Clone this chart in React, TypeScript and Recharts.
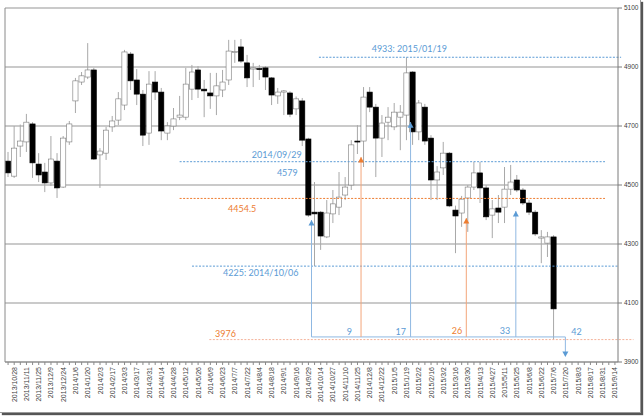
import React from 'react';
import { ComposedChart, Bar, XAxis, YAxis, CartesianGrid, ReferenceLine, ReferenceDot } from 'recharts';

// Week labels shown on the axis (every other week)
const labeledWeeks = [
  '2013/10/28', '2013/11/11', '2013/11/25', '2013/12/9', '2013/12/24', '2014/1/6', '2014/1/20', '2014/2/3',
  '2014/2/17', '2014/3/3', '2014/3/17', '2014/3/31', '2014/4/14', '2014/4/28', '2014/5/12', '2014/5/26',
  '2014/6/9', '2014/6/23', '2014/7/7', '2014/7/22', '2014/8/4', '2014/8/18', '2014/9/1', '2014/9/16',
  '2014/9/29', '2014/10/14', '2014/10/27', '2014/11/10', '2014/11/25', '2014/12/8', '2014/12/22', '2015/1/5',
  '2015/1/19', '2015/2/2', '2015/2/16', '2015/3/2', '2015/3/16', '2015/3/30', '2015/4/13', '2015/4/27',
  '2015/5/11', '2015/5/25', '2015/6/8', '2015/6/22', '2015/7/6', '2015/7/20', '2015/8/3', '2015/8/17',
  '2015/8/31', '2015/9/14',
];
// Weeks in between (not labeled)
const otherWeeks = [
  '2013/10/21', '2013/11/4', '2013/11/18', '2013/12/2', '2013/12/16', '2013/12/30', '2014/1/14', '2014/1/27',
  '2014/2/10', '2014/2/24', '2014/3/10', '2014/3/24', '2014/4/7', '2014/4/21', '2014/5/7', '2014/5/19',
  '2014/6/2', '2014/6/16', '2014/6/30', '2014/7/14', '2014/7/28', '2014/8/11', '2014/8/25', '2014/9/8',
  '2014/9/22', '2014/10/6', '2014/10/20', '2014/11/4', '2014/11/17', '2014/12/1', '2014/12/15', '2014/12/29',
  '2015/1/13', '2015/1/26', '2015/2/9', '2015/2/23', '2015/3/9', '2015/3/23', '2015/4/6', '2015/4/20',
  '2015/5/7', '2015/5/18', '2015/6/1', '2015/6/15', '2015/6/29', '2015/7/13', '2015/7/27', '2015/8/10',
  '2015/8/24', '2015/9/7',
];

const opens = [
  4581, 4530, 4632, 4646, 4707, 4571, 4544, 4507, 4581, 4493,
  4646, 4785, 4849, 4866, 4890, 4602, 4608, 4697, 4720, 4771,
  4944, 4856, 4808, 4676, 4849, 4815, 4676, 4700, 4730, 4730,
  4825, 4890, 4825, 4812, 4802, 4822, 4856, 4949, 4968, 4914,
  4893, 4895, 4897, 4863, 4802, 4815, 4812, 4758, 4785, 4656,
  4408, 4408, 4324, 4402, 4425, 4466, 4500, 4649, 4649, 4815,
  4764, 4659, 4713, 4697, 4730, 4737, 4883, 4680, 4764, 4659,
  4517, 4558, 4608, 4415, 4405, 4456, 4493, 4541, 4490, 4398,
  4422, 4425, 4486, 4517, 4483, 4439, 4408, 4320, 4303, 4324,
];
const highs = [
  4612, 4700, 4705, 4741, 4713, 4608, 4575, 4666, 4608, 4666,
  4717, 4863, 4883, 4981, 4897, 4625, 4697, 4734, 4815, 4958,
  4951, 4893, 4822, 4886, 4886, 4829, 4713, 4761, 4802, 4897,
  4907, 4903, 4856, 4880, 4880, 4890, 4992, 4992, 4995, 4941,
  4914, 4907, 4903, 4866, 4829, 4822, 4818, 4800, 4795, 4660,
  4510, 4412, 4449, 4483, 4544, 4527, 4652, 4703, 4832, 4832,
  4775, 4737, 4764, 4778, 4771, 4933, 4886, 4788, 4775, 4669,
  4564, 4646, 4612, 4430, 4463, 4500, 4578, 4578, 4500, 4449,
  4466, 4561, 4568, 4534, 4490, 4449, 4415, 4347, 4341, 4330,
];
const lows = [
  4527, 4524, 4595, 4612, 4524, 4510, 4476, 4497, 4456, 4490,
  4636, 4744, 4839, 4859, 4585, 4490, 4585, 4680, 4703, 4754,
  4822, 4771, 4632, 4636, 4788, 4652, 4652, 4686, 4720, 4720,
  4788, 4795, 4730, 4758, 4737, 4798, 4839, 4914, 4914, 4832,
  4832, 4856, 4822, 4771, 4775, 4737, 4730, 4737, 4632, 4392,
  4225, 4280, 4320, 4371, 4398, 4449, 4483, 4605, 4561, 4747,
  4527, 4595, 4652, 4686, 4618, 4652, 4636, 4652, 4636, 4449,
  4449, 4534, 4425, 4269, 4358, 4341, 4483, 4439, 4381, 4320,
  4371, 4371, 4466, 4476, 4432, 4398, 4327, 4235, 4256, 3976,
];
const closes = [
  4541, 4625, 4649, 4713, 4575, 4534, 4507, 4588, 4490, 4659,
  4707, 4853, 4870, 4890, 4588, 4615, 4686, 4717, 4792, 4951,
  4853, 4808, 4669, 4842, 4815, 4683, 4700, 4724, 4737, 4842,
  4883, 4825, 4819, 4802, 4836, 4849, 4954, 4952, 4920, 4863,
  4897, 4891, 4866, 4805, 4815, 4819, 4740, 4792, 4652, 4398,
  4402, 4327, 4405, 4436, 4459, 4493, 4636, 4646, 4798, 4764,
  4659, 4710, 4730, 4747, 4747, 4880, 4680, 4778, 4649, 4517,
  4544, 4608, 4429, 4395, 4452, 4493, 4541, 4490, 4392, 4419,
  4408, 4486, 4510, 4483, 4439, 4408, 4334, 4324, 4324, 4080,
];

const yTicks = [3900, 4100, 4300, 4500, 4700, 4900, 5100];

// Annotation values
const levelLines = [
  { value: 4933, from: 50.7, to: 99.5, kind: 'blue' },
  { value: 4579, from: 28.2, to: 96.9, kind: 'blue' },
  { value: 4454.5, from: 28.2, to: 96.9, kind: 'orange' },
  { value: 4225, from: 30.2, to: 99.0, kind: 'blue' },
  { value: 3976, from: 33.0, to: 101.5, kind: 'pink' },
];
const markers = [
  { week: '2014/9/29', tip: 4381, kind: 'blue' },
  { week: '2014/11/25', tip: 4595, kind: 'orange' },
  { week: '2015/1/19', tip: 4713, kind: 'blue' },
  { week: '2015/3/23', tip: 4388, kind: 'orange' },
  { week: '2015/5/18', tip: 4412, kind: 'blue' },
];
const baseValue = 3985;
const endWeek = '2015/7/13';
const endTip = 3917;
const notes = [
  { text: '4933: 2015/01/19', x: 65.3, y: 4964, kind: 'blue' },
  { text: '2014/09/29', x: 43.9, y: 4602, kind: 'blue' },
  { text: '4579', x: 45.6, y: 4541, kind: 'blue' },
  { text: '4454.5', x: 38.3, y: 4419, kind: 'orange' },
  { text: '4225: 2014/10/06', x: 41.3, y: 4202, kind: 'blue' },
  { text: '3976', x: 35.6, y: 3998, kind: 'orange' },
  { text: '9', x: 55.6, y: 4005, kind: 'blue' },
  { text: '17', x: 63.9, y: 4005, kind: 'blue' },
  { text: '26', x: 73.0, y: 4008, kind: 'orange' },
  { text: '33', x: 80.75, y: 4008, kind: 'blue' },
  { text: '42', x: 92.3, y: 4005, kind: 'blue' },
];

const COLORS: Record<string, { line: string; text: string; vline: string }> = {
  blue: { line: '#5b9bd5', text: '#5b9bd5', vline: '#8fb8e2' },
  orange: { line: '#ed7d31', text: '#ed7d31', vline: '#f3a57a' },
  pink: { line: '#f4b29a', text: '#ed7d31', vline: '#f3a57a' },
};

const data = Array.from({ length: labeledWeeks.length + otherWeeks.length }, (_, i) => {
  const date = i % 2 === 1 ? labeledWeeks[(i - 1) / 2] : otherWeeks[i / 2];
  const has = i < opens.length;
  return {
    date,
    open: has ? opens[i] : undefined,
    high: has ? highs[i] : undefined,
    low: has ? lows[i] : undefined,
    close: has ? closes[i] : undefined,
    range: has ? [lows[i], highs[i]] : undefined,
  };
});
const weekPos = (w: string) => data.findIndex((d) => d.date === w) + 0.5;

const Candle = (props: any) => {
  const { x, y, width, height, payload } = props;
  if (!payload || payload.open == null || y == null || isNaN(y)) return null;
  const { open, close, high, low } = payload;
  const top = Math.min(y, y + height);
  const bot = Math.max(y, y + height);
  const span = high - low || 1;
  const py = (v: number) => top + ((high - v) / span) * (bot - top);
  const cx = x + width / 2;
  const bTop = py(Math.max(open, close));
  const bBot = py(Math.min(open, close));
  const up = close >= open;
  return (
    <g>
      <line x1={cx} x2={cx} y1={top} y2={bot} stroke="#a8a8a8" strokeWidth={1} />
      <rect
        x={x + 0.4}
        y={bTop}
        width={Math.max(width - 0.8, 1)}
        height={Math.max(bBot - bTop, 1)}
        fill={up ? '#ffffff' : '#000000'}
        stroke={up ? '#7a7a7a' : '#000000'}
        strokeWidth={0.6}
      />
    </g>
  );
};

const XTick = (props: any) => {
  const { x, y, payload } = props;
  if (!labeledWeeks.includes(payload.value)) return null;
  return (
    <text
      x={x}
      y={y}
      transform={`rotate(-90, ${x}, ${y})`}
      textAnchor="end"
      dominantBaseline="central"
      fontSize={7}
      fontFamily="Liberation Sans, Arial, sans-serif"
      fill="#404040"
    >
      {payload.value}
    </text>
  );
};

const upTri = (color: string) => (p: any) => (
  <path d={`M${p.cx},${p.cy} l3,5.5 l-6,0 z`} fill={color} />
);
const downTri = (color: string) => (p: any) => (
  <path d={`M${p.cx},${p.cy} l-3,-5.5 l6,0 z`} fill={color} />
);

export default function App() {
  const endX = weekPos(endWeek);
  const firstX = weekPos(markers[0].week);
  return (
    <div style={{ position: 'absolute', left: 0, top: 0, width: 644, height: 417 }}>
      <div
        style={{
          position: 'absolute',
          left: 0,
          top: 0,
          width: 640,
          height: 412,
          background: '#fff',
          borderRight: '1px solid #9a9a9a',
          borderBottom: '1px solid #9a9a9a',
          boxShadow: '2px 2px 1px #555',
        }}
      />
      <div style={{ position: 'absolute', left: 0, top: 0 }}>
        <ComposedChart
          width={644}
          height={417}
          data={data}
          margin={{ top: 8, right: 2, bottom: 5, left: 5 }}
          barCategoryGap={0}
          barGap={0}
        >
          <CartesianGrid xAxisId="c" yAxisId="r" vertical={false} stroke="#959595" strokeWidth={1} />
          <XAxis
            xAxisId="c"
            dataKey="date"
            interval={0}
            height={50}
            tick={<XTick />}
            tickSize={3}
            tickMargin={2}
            axisLine={{ stroke: '#8a8a8a' }}
            tickLine={{ stroke: '#8a8a8a' }}
          />
          <XAxis xAxisId="n" type="number" domain={[0, 100]} hide allowDataOverflow />
          <YAxis
            yAxisId="r"
            orientation="right"
            width={24}
            domain={[3900, 5100]}
            ticks={yTicks}
            interval={0}
            tickSize={4}
            tickMargin={2}
            axisLine={{ stroke: '#7a7a7a' }}
            tickLine={{ stroke: '#7a7a7a' }}
            tick={{ fontSize: 6.5, fill: '#404040', fontFamily: 'Liberation Sans, Arial, sans-serif', textAnchor: 'start' }}
          />
          <ReferenceLine xAxisId="n" yAxisId="r" x={0} stroke="#8a8a8a" />
          <Bar xAxisId="c" yAxisId="r" dataKey="range" shape={<Candle />} isAnimationActive={false} />

          {levelLines.map((l, k) => (
            <ReferenceLine
              key={'lv' + k}
              xAxisId="n"
              yAxisId="r"
              ifOverflow="visible"
              segment={[{ x: l.from, y: l.value }, { x: l.to, y: l.value }]}
              stroke={COLORS[l.kind].line}
              strokeDasharray="2 1.5"
              strokeWidth={1}
            />
          ))}

          <ReferenceLine
            xAxisId="n"
            yAxisId="r"
            ifOverflow="visible"
            segment={[{ x: firstX, y: baseValue }, { x: endX, y: baseValue }]}
            stroke={COLORS.blue.vline}
            strokeWidth={1}
          />
          {markers.map((m, k) => (
            <ReferenceLine
              key={'mv' + k}
              xAxisId="n"
              yAxisId="r"
              ifOverflow="visible"
              segment={[{ x: weekPos(m.week), y: m.tip }, { x: weekPos(m.week), y: baseValue }]}
              stroke={COLORS[m.kind].vline}
              strokeWidth={1}
            />
          ))}
          <ReferenceLine
            xAxisId="n"
            yAxisId="r"
            ifOverflow="visible"
            segment={[{ x: endX, y: baseValue }, { x: endX, y: endTip + 15 }]}
            stroke={COLORS.blue.vline}
            strokeWidth={1}
          />
          {markers.map((m, k) => (
            <ReferenceDot
              key={'mt' + k}
              xAxisId="n"
              yAxisId="r"
              ifOverflow="visible"
              x={weekPos(m.week)}
              y={m.tip}
              r={0}
              shape={upTri(COLORS[m.kind].line)}
            />
          ))}
          <ReferenceDot
            xAxisId="n"
            yAxisId="r"
            ifOverflow="visible"
            x={endX}
            y={endTip}
            r={0}
            shape={downTri(COLORS.blue.line)}
          />
          {notes.map((n, k) => (
            <ReferenceDot
              key={'nt' + k}
              xAxisId="n"
              yAxisId="r"
              ifOverflow="visible"
              x={n.x}
              y={n.y}
              r={0}
              shape={(p: any) => (
                <text
                  x={p.cx}
                  y={p.cy}
                  textAnchor="middle"
                  dominantBaseline="central"
                  fontSize={9}
                  fontFamily="Lato, sans-serif"
                  fill={COLORS[n.kind].text}
                >
                  {n.text}
                </text>
              )}
            />
          ))}
        </ComposedChart>
      </div>
    </div>
  );
}
